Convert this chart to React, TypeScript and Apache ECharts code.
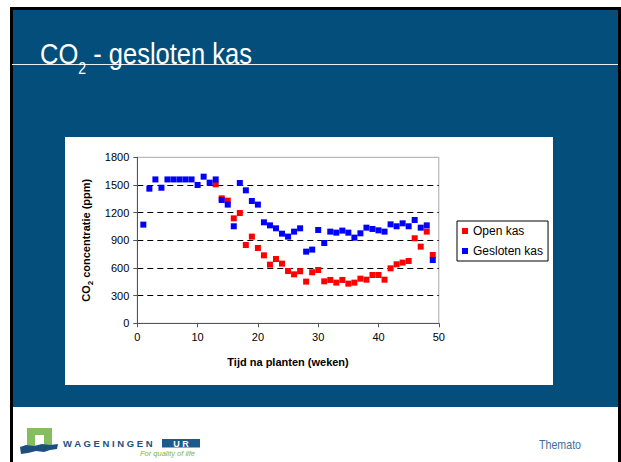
import React, { useEffect, useRef } from 'react';
import * as echarts from 'echarts';

// ---- data ----
const weeks = [
  1, 2, 3, 4, 5, 6, 7, 8, 9, 10, 11, 12, 13, 14, 15, 16, 17, 18, 19, 20, 21, 22, 23, 24, 25,
  26, 27, 28, 29, 30, 31, 32, 33, 34, 35, 36, 37, 38, 39, 40, 41, 42, 43, 44, 45, 46, 47, 48, 49,
];
// weeks 1-12 of "Open kas" are hidden under the "Gesloten kas" marks in the picture
const openKas: (number | null)[] = [
  null, null, null, null, null, null, null, null, null, null, null, null, 1507, 1355, 1330, 1138,
  1196, 849, 940, 817, 737, 636, 697, 647, 567, 531, 564, 452, 553, 578, 455, 470, 441, 470, 430,
  441, 484, 473, 524, 524, 473, 596, 640, 658, 676, 922, 831, 994, 741,
];
const geslotenKas = [
  1070, 1460, 1560, 1470, 1560, 1560, 1560, 1560, 1560, 1500, 1590, 1525, 1560, 1337, 1287, 1052,
  1521, 1442, 1326, 1287, 1095, 1062, 1030, 972, 940, 994, 1030, 777, 799, 1012, 871, 994, 983,
  1005, 983, 929, 976, 1037, 1023, 1008, 994, 1073, 1052, 1084, 1052, 1120, 1037, 1062, 686,
];
const seriesNames = ['Open kas', 'Gesloten kas'];
const xRange = [0, 50, 10];
const yRange = [0, 1800, 300];

const SANS = "'Liberation Sans', Arial, Helvetica, sans-serif";
const SLIDE_BLUE = '#034e7b';

export default function App() {
  const ref = useRef<HTMLDivElement>(null);

  useEffect(() => {
    if (!ref.current) return;
    const chart = echarts.init(ref.current, null, { renderer: 'svg', width: 621, height: 462 });
    const pair = (vals: (number | null)[]) =>
      weeks.map((w, i) => [w, vals[i]]).filter((p) => p[1] !== null);

    const option: any = {
      animation: false,
      backgroundColor: '#ffffff',
      graphic: {
        elements: [
          { type: 'rect', z: -10, shape: { x: 10, y: 7, width: 611, height: 460 }, style: { fill: '#000000' } },
          { type: 'rect', z: -9, shape: { x: 13, y: 10, width: 605, height: 397 }, style: { fill: SLIDE_BLUE } },
          { type: 'rect', z: -9, shape: { x: 13, y: 407, width: 605, height: 60 }, style: { fill: '#ffffff' } },
          { type: 'rect', z: -8, shape: { x: 65, y: 137, width: 488, height: 248 }, style: { fill: '#ffffff' } },
          { type: 'line', z: -7, shape: { x1: 12, y1: 64.5, x2: 618, y2: 64.5 }, style: { stroke: '#e8eef2', lineWidth: 1 } },
          {
            type: 'text',
            z: 5,
            x: 40,
            y: 39.6,
            scaleX: 0.88,
            style: {
              text: '{m|CO}{s|2}{m| - gesloten kas}',
              fill: '#ffffff',
              verticalAlign: 'top',
              rich: {
                m: { fontSize: 29, lineHeight: 29, fontFamily: SANS, fill: '#ffffff', verticalAlign: 'top' },
                s: { fontSize: 16, lineHeight: 16, fontFamily: SANS, fill: '#ffffff', verticalAlign: 'top', padding: [21, 0, 0, 0] },
              },
            },
          },
          // logo
          {
            type: 'polygon',
            z: 5,
            shape: { points: [[27, 428], [52, 428], [52, 447], [44, 447], [44, 435], [35, 435], [35, 447], [27, 447]] },
            style: { fill: '#86bd5e' },
          },
          {
            type: 'polygon',
            z: 5,
            shape: {
              points: [[20, 447], [26, 445], [34, 446], [42, 444], [50, 445], [58, 444], [57, 449], [50, 450], [44, 452], [36, 451], [28, 453], [21, 454]],
            },
            style: { fill: '#1d4f7e' },
          },
          {
            type: 'text',
            z: 5,
            x: 63,
            y: 443.5,
            style: { text: 'W A G E N I N G E N', fontSize: 9.5, fontWeight: 'bold', fontFamily: SANS, fill: '#1d4f7e', verticalAlign: 'middle' },
          },
          { type: 'rect', z: 5, shape: { x: 162, y: 439, width: 38, height: 8.5 }, style: { fill: '#1d5a8c' } },
          {
            type: 'text',
            z: 6,
            x: 181,
            y: 443.5,
            style: { text: 'U R', fontSize: 9, fontWeight: 'bold', fontFamily: SANS, fill: '#ffffff', align: 'center', verticalAlign: 'middle' },
          },
          {
            type: 'text',
            z: 5,
            x: 140,
            y: 453,
            style: { text: 'For quality of life', fontSize: 7.5, fontStyle: 'italic', fontFamily: SANS, fill: '#7ab648', verticalAlign: 'middle' },
          },
          {
            type: 'text',
            z: 5,
            x: 539,
            y: 445,
            scaleX: 0.82,
            style: { text: 'Themato', fontSize: 13, fontFamily: SANS, fill: '#3d6f9f', verticalAlign: 'middle' },
          },
        ],
      },
      grid: {
        left: 137.3,
        top: 157.3,
        width: 301.5,
        height: 166,
        containLabel: false,
        show: true,
        borderColor: '#a8a8a8',
        borderWidth: 1,
        backgroundColor: 'transparent',
      },
      legend: {
        orient: 'vertical',
        left: 457,
        top: 221,
        padding: [3, 5, 3, 5],
        itemGap: 6,
        itemWidth: 6,
        itemHeight: 6,
        backgroundColor: '#ffffff',
        borderColor: '#000000',
        borderWidth: 1,
        borderRadius: 0,
        data: seriesNames.map((n) => ({ name: n, icon: 'rect' })),
        textStyle: { fontSize: 12, fontFamily: SANS, color: '#000000', lineHeight: 14 },
      },
      xAxis: {
        type: 'value',
        min: xRange[0],
        max: xRange[1],
        interval: xRange[2],
        name: 'Tijd na planten (weken)',
        nameLocation: 'middle',
        nameGap: 33,
        nameTextStyle: { fontSize: 11, fontWeight: 'bold', fontFamily: SANS, color: '#000000' },
        axisLine: { show: true, lineStyle: { color: '#555555', width: 1 } },
        axisTick: { show: true, inside: false, length: 4, lineStyle: { color: '#555555' } },
        axisLabel: { fontSize: 11, fontFamily: SANS, color: '#000000', margin: 8, formatter: (v: number) => String(v) },
        splitLine: { show: false },
      },
      yAxis: {
        type: 'value',
        min: yRange[0],
        max: yRange[1],
        interval: yRange[2],
        name: '{m|CO}{s|2}{m| concentratie (ppm)}',
        nameLocation: 'middle',
        nameRotate: 90,
        nameGap: 44,
        nameTextStyle: {
          rich: {
            m: { fontSize: 11, fontWeight: 'bold', fontFamily: SANS, color: '#000000', lineHeight: 13, verticalAlign: 'top' },
            s: { fontSize: 8, fontWeight: 'bold', fontFamily: SANS, color: '#000000', lineHeight: 8, verticalAlign: 'top', padding: [6, 0, 0, 0] },
          },
        },
        axisLine: { show: true, lineStyle: { color: '#555555', width: 1 } },
        axisTick: { show: true, inside: false, length: 4, lineStyle: { color: '#555555' } },
        axisLabel: { fontSize: 11, fontFamily: SANS, color: '#000000', margin: 8, formatter: (v: number) => String(v) },
        splitLine: {
          show: true,
          showMinLine: false,
          showMaxLine: false,
          lineStyle: { color: '#000000', type: [6, 4], width: 1 },
        },
      },
      series: [
        {
          name: seriesNames[0],
          type: 'scatter',
          symbol: 'rect',
          symbolSize: 6,
          itemStyle: { color: '#ff0000', opacity: 1 },
          data: pair(openKas),
          z: 2,
        },
        {
          name: seriesNames[1],
          type: 'scatter',
          symbol: 'rect',
          symbolSize: 6,
          itemStyle: { color: '#0000ff', opacity: 1 },
          data: pair(geslotenKas),
          z: 3,
        },
      ],
    };

    chart.setOption(option);
    return () => chart.dispose();
  }, []);

  return <div ref={ref} style={{ position: 'fixed', left: 0, top: 0, width: 621, height: 462 }} />;
}
